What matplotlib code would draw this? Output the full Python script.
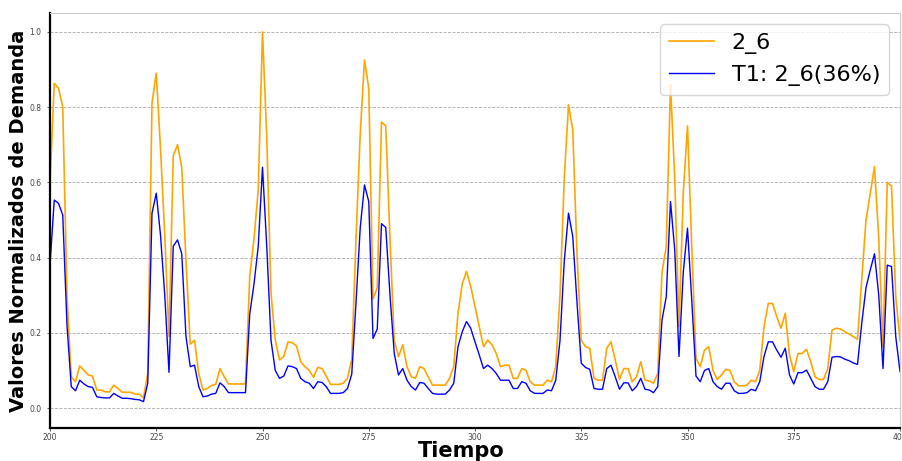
import numpy as np
import matplotlib
matplotlib.use("Agg")
import matplotlib.pyplot as plt

# Tiempo 200..400, una muestra por unidad
tiempo = np.arange(200, 401)

serie_2_6 = [
    0.60, 0.863, 0.85, 0.80, 0.30, 0.083, 0.07, 0.112, 0.10, 0.088,
    0.085, 0.048, 0.048, 0.043, 0.043, 0.061, 0.052, 0.042, 0.042, 0.042,
    0.037, 0.037, 0.027, 0.092, 0.81, 0.89, 0.69, 0.46, 0.19, 0.67,
    0.70, 0.64, 0.39, 0.17, 0.18, 0.092, 0.048, 0.052, 0.06, 0.063,
    0.105, 0.083, 0.064, 0.064, 0.064, 0.064, 0.064, 0.35, 0.45, 0.58,
    1.0, 0.72, 0.305, 0.18, 0.128, 0.137, 0.176, 0.174, 0.165, 0.123,
    0.11, 0.10, 0.082, 0.108, 0.105, 0.085, 0.063, 0.063, 0.063, 0.066,
    0.079, 0.13, 0.45, 0.73, 0.925, 0.85, 0.29, 0.32, 0.76, 0.75,
    0.45, 0.18, 0.137, 0.168, 0.11, 0.083, 0.079, 0.11, 0.105, 0.083,
    0.061, 0.061, 0.061, 0.061, 0.079, 0.11, 0.252, 0.33, 0.363, 0.323,
    0.27, 0.216, 0.163, 0.181, 0.168, 0.145, 0.11, 0.114, 0.114, 0.079,
    0.079, 0.105, 0.10, 0.07, 0.061, 0.061, 0.061, 0.074, 0.07, 0.11,
    0.30, 0.61, 0.806, 0.74, 0.41, 0.18, 0.163, 0.159, 0.079, 0.074,
    0.074, 0.159, 0.176, 0.128, 0.076, 0.105, 0.105, 0.07, 0.083, 0.123,
    0.074, 0.072, 0.066, 0.092, 0.36, 0.43, 0.86, 0.61, 0.216, 0.57,
    0.75, 0.43, 0.132, 0.11, 0.154, 0.163, 0.10, 0.076, 0.088, 0.103,
    0.10, 0.07, 0.059, 0.059, 0.061, 0.074, 0.07, 0.10, 0.216, 0.278,
    0.278, 0.243, 0.212, 0.252, 0.141, 0.097, 0.145, 0.145, 0.156, 0.123,
    0.083, 0.076, 0.076, 0.105, 0.207, 0.212, 0.21, 0.203, 0.197, 0.19,
    0.183, 0.34, 0.50, 0.57, 0.642, 0.45, 0.163, 0.60, 0.59, 0.296,
    0.18,
]

serie_t1 = [
    0.38, 0.553, 0.544, 0.513, 0.22, 0.057, 0.046, 0.074, 0.064, 0.057,
    0.055, 0.03, 0.028, 0.027, 0.027, 0.039, 0.032, 0.026, 0.026, 0.025,
    0.023, 0.022, 0.017, 0.066, 0.518, 0.571, 0.46, 0.30, 0.095, 0.43,
    0.447, 0.41, 0.19, 0.11, 0.114, 0.057, 0.03, 0.032, 0.037, 0.039,
    0.067, 0.057, 0.041, 0.041, 0.041, 0.041, 0.041, 0.25, 0.33, 0.43,
    0.64, 0.43, 0.18, 0.10, 0.079, 0.085, 0.112, 0.11, 0.105, 0.079,
    0.07, 0.066, 0.052, 0.07, 0.068, 0.057, 0.039, 0.039, 0.039, 0.041,
    0.052, 0.09, 0.28, 0.48, 0.593, 0.549, 0.185, 0.21, 0.49, 0.48,
    0.30, 0.145, 0.088, 0.105, 0.074, 0.057, 0.048, 0.068, 0.066, 0.052,
    0.039, 0.037, 0.037, 0.037, 0.048, 0.066, 0.163, 0.203, 0.23, 0.212,
    0.176, 0.141, 0.105, 0.114, 0.105, 0.092, 0.074, 0.074, 0.074, 0.052,
    0.052, 0.07, 0.066, 0.046, 0.039, 0.039, 0.039, 0.048, 0.046, 0.074,
    0.18, 0.39, 0.518, 0.456, 0.28, 0.119, 0.108, 0.103, 0.052, 0.05,
    0.05, 0.105, 0.114, 0.083, 0.05, 0.067, 0.067, 0.046, 0.057, 0.079,
    0.05, 0.048, 0.041, 0.057, 0.234, 0.296, 0.549, 0.42, 0.137, 0.36,
    0.478, 0.287, 0.085, 0.07, 0.10, 0.105, 0.07, 0.057, 0.05, 0.066,
    0.066, 0.046, 0.039, 0.039, 0.041, 0.05, 0.046, 0.07, 0.137, 0.176,
    0.176, 0.154, 0.135, 0.159, 0.088, 0.064, 0.094, 0.094, 0.101, 0.079,
    0.057, 0.05, 0.05, 0.07, 0.135, 0.137, 0.136, 0.13, 0.126, 0.12,
    0.116, 0.225, 0.32, 0.367, 0.41, 0.30, 0.105, 0.38, 0.376, 0.19,
    0.097,
]

etiquetas = ["2_6", "T1: 2_6(36%)"]
y_ticks = [0.0, 0.2, 0.4, 0.6, 0.8, 1.0]
x_ticks = [200, 225, 250, 275, 300, 325, 350, 375, 400]

fig = plt.figure(figsize=(9.02, 4.61), dpi=100)
ax = fig.add_axes([50 / 902, 33 / 461, 850 / 902, 415 / 461])

ax.plot(tiempo, serie_2_6, color="orange", lw=1.2, label=etiquetas[0])
ax.plot(tiempo, serie_t1, color="blue", lw=1.0, label=etiquetas[1])

ax.set_xlim(200, 400)
ax.set_ylim(-0.053, 1.05)
ax.set_xticks(x_ticks)
ax.set_yticks(y_ticks)
ax.tick_params(labelsize=5.5, colors="#444444", length=2.5, width=0.6)
ax.tick_params(axis="x", pad=0.8)
ax.grid(axis="y", linestyle="--", color="#aaaaaa", lw=0.6)

for s in ["top", "right"]:
    ax.spines[s].set_color("#cccccc")
for s in ["left", "bottom"]:
    ax.spines[s].set_color("black")
    ax.spines[s].set_linewidth(1.6)

ax.set_ylabel("Valores Normalizados de Demanda", fontsize=14, fontweight="bold")
ax.yaxis.set_label_coords(-0.026, 0.5)
ax.set_xlabel("Tiempo", fontsize=15, fontweight="bold", va="bottom")
ax.xaxis.set_label_coords(0.484, -32.5 / 415)

ax.legend(loc="upper right", fontsize=16)

fig.savefig("out.png", dpi=100)
